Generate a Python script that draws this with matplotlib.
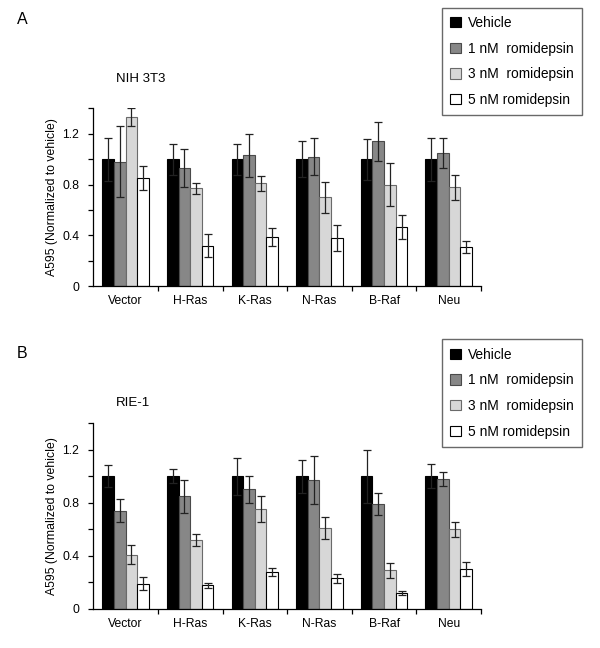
import numpy as np
import matplotlib
matplotlib.use("Agg")
import matplotlib.pyplot as plt

plt.rcParams["font.family"] = ["Liberation Sans", "DejaVu Sans"]

groups = ["Vector", "H-Ras", "K-Ras", "N-Ras", "B-Raf", "Neu"]
series = ["Vehicle", "1 nM  romidepsin", "3 nM  romidepsin", "5 nM romidepsin"]

# NIH 3T3 panel
nih_vehicle = [1.00, 1.00, 1.00, 1.00, 1.00, 1.00]
nih_vehicle_err = [0.17, 0.12, 0.12, 0.14, 0.16, 0.17]
nih_1nm = [0.98, 0.93, 1.03, 1.02, 1.14, 1.05]
nih_1nm_err = [0.28, 0.15, 0.17, 0.145, 0.15, 0.12]
nih_3nm = [1.33, 0.77, 0.81, 0.70, 0.80, 0.78]
nih_3nm_err = [0.07, 0.04, 0.06, 0.12, 0.17, 0.10]
nih_5nm = [0.85, 0.32, 0.39, 0.38, 0.47, 0.31]
nih_5nm_err = [0.095, 0.09, 0.07, 0.10, 0.095, 0.045]

# RIE-1 panel
rie_vehicle = [1.00, 1.00, 1.00, 1.00, 1.00, 1.00]
rie_vehicle_err = [0.083, 0.055, 0.14, 0.125, 0.20, 0.088]
rie_1nm = [0.74, 0.85, 0.90, 0.97, 0.79, 0.98]
rie_1nm_err = [0.088, 0.124, 0.10, 0.178, 0.082, 0.054]
rie_3nm = [0.41, 0.52, 0.75, 0.61, 0.29, 0.60]
rie_3nm_err = [0.075, 0.043, 0.097, 0.08, 0.056, 0.056]
rie_5nm = [0.19, 0.18, 0.28, 0.23, 0.12, 0.30]
rie_5nm_err = [0.048, 0.019, 0.031, 0.034, 0.015, 0.054]

fills = ["#000000", "#878787", "#d7d7d7", "#ffffff"]
edges = ["#000000", "#4a4a4a", "#6a6a6a", "#000000"]


def draw_panel(ax, means, errs):
    x = np.arange(len(groups))
    width = 0.18
    for k in range(4):
        pos = x + 0.5 + (k - 1.5) * width
        ax.bar(pos, means[k], width, color=fills[k], edgecolor=edges[k],
               linewidth=0.8, label=series[k], zorder=2)
        ax.errorbar(pos, means[k], yerr=errs[k], fmt="none", ecolor="#222222",
                    elinewidth=0.9, capsize=3.2, capthick=0.9, zorder=3)

    ax.set_xlim(0, len(groups))
    ax.set_ylim(0, 1.4)
    ax.set_yticks([0, 0.4, 0.8, 1.2])
    ax.set_yticklabels(["0", "0.4", "0.8", "1.2"])
    ax.set_yticks([0.2, 0.6, 1.0, 1.4], minor=True)
    ax.set_xticks(np.arange(1, len(groups) + 1))
    ax.set_xticklabels([])
    ax.set_xticks(x + 0.5, minor=True)
    ax.set_xticklabels(groups, minor=True)
    ax.tick_params(axis="x", which="minor", length=0, pad=6.5, labelsize=8.7)
    ax.tick_params(axis="x", which="major", length=3.5, width=0.9)
    ax.tick_params(axis="y", which="both", length=3.5, width=0.9, labelsize=8.7, pad=6.5)
    for side in ["top", "right"]:
        ax.spines[side].set_visible(False)
    for side in ["left", "bottom"]:
        ax.spines[side].set_linewidth(0.9)
    ax.set_ylabel("A595 (Normalized to vehicle)", fontsize=8.8, labelpad=3)


fig = plt.figure(figsize=(6.0, 6.48), dpi=100)

ax1 = fig.add_axes([0.1555, 0.5582, 0.6462, 0.2744])
draw_panel(ax1, [nih_vehicle, nih_1nm, nih_3nm, nih_5nm],
           [nih_vehicle_err, nih_1nm_err, nih_3nm_err, nih_5nm_err])

ax2 = fig.add_axes([0.1555, 0.0602, 0.6462, 0.2870])
draw_panel(ax2, [rie_vehicle, rie_1nm, rie_3nm, rie_5nm],
           [rie_vehicle_err, rie_1nm_err, rie_3nm_err, rie_5nm_err])

for ax, top in [(ax1, 1 - 7.7 / 648), (ax2, 1 - 339.3 / 648)]:
    leg = ax.legend(loc="upper left", bbox_to_anchor=(441.7 / 600, top),
                    bbox_transform=fig.transFigure, fontsize=9.9,
                    frameon=True, fancybox=False, borderaxespad=0,
                    handlelength=0.78, handleheight=0.78, handletextpad=0.5,
                    labelspacing=0.85, borderpad=0.6)
    leg.get_frame().set_edgecolor("#444444")
    leg.get_frame().set_linewidth(1.0)

fig.text(17 / 600, 1 - 19 / 648, "A", fontsize=11.5, va="center", ha="left")
fig.text(116 / 600, 1 - 79 / 648, "NIH 3T3", fontsize=9.5, va="center", ha="left")
fig.text(17 / 600, 1 - 354 / 648, "B", fontsize=11.5, va="center", ha="left")
fig.text(116 / 600, 1 - 403.5 / 648, "RIE-1", fontsize=9.5, va="center", ha="left")

fig.savefig("out.png", dpi=100)
